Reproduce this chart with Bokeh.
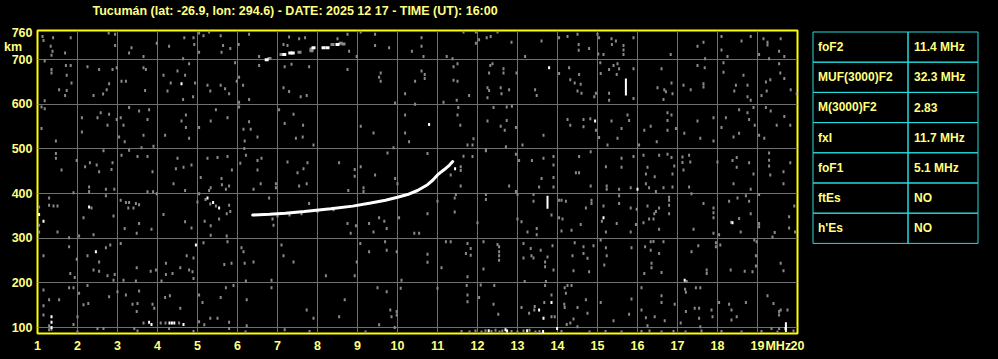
from bokeh.plotting import figure
from bokeh.models import Range1d, FixedTicker, LinearAxis
from bokeh.layouts import row
from bokeh.embed import file_html
from bokeh.resources import INLINE
from bokeh.core.properties import value

# ---------------- data ----------------
title_text = "Tucumán (lat: -26.9, lon: 294.6) - DATE: 2025 12 17 - TIME (UT): 16:00"
title_pos = 7.44          # frequency under the middle of the heading
freq_ticks = list(range(1, 21))
freq_unit_pos = 19.52
freq_unit = "MHz"
height_ticks = [100, 200, 300, 400, 500, 600, 700, 760]
height_unit_pos = 729
height_unit = "km\u00a0\u00a0\u00a0"
grid_heights = [100, 200, 300, 400, 500, 600, 700]

param_names = ["foF2", "MUF(3000)F2", "M(3000)F2", "fxI", "foF1", "ftEs", "h'Es"]
param_values = ["11.4 MHz", "32.3 MHz", "2.83", "11.7 MHz", "5.1 MHz", "NO", "NO"]

# F-layer echo trace (MHz, km)
trace_f = [6.38, 6.8, 7.2, 7.67, 8.33, 8.88, 9.33, 9.7, 10.0, 10.25, 10.5, 10.75, 10.88, 11.0, 11.17, 11.3, 11.38]
trace_h = [352, 354, 356, 360, 366, 372, 379, 385, 392, 398, 407, 420, 430, 442, 454, 464, 472]

# second-hop echo fragments
hop2_white_f = [6.73, 7.17, 7.32, 7.38, 7.9, 8.15, 8.25, 8.5]
hop2_white_h = [700, 712, 715, 715, 727, 727, 727, 734]
hop2_gray_f = [6.8, 7.1, 7.55, 7.85, 7.85, 8.375, 8.58, 8.65]
hop2_gray_h = [703, 712, 717, 720, 724, 734, 737, 735]

# isolated strong echoes (white)
white_f = [4.6, 13.79, 10.79, 14.94, 15.15, 18.375, 17.18, 1.04, 1.15, 2.29, 2.46, 4.96, 3.79, 3.85,
           4.3, 4.36, 4.42, 4.65, 1.35, 1.35, 1.35, 13.54, 13.65, 13.85, 16.0, 5.25, 5.39, 5.54, 11.44,
           12.28, 12.74, 13.24, 13.64, 13.99, 19.7, 12.7]
white_h = [646, 682, 555, 563, 346, 335, 206, 353, 338, 370, 270, 285, 112, 107,
           110, 110, 110, 107, 124, 112, 100, 139, 121, 156, 410, 390, 380, 368, 456,
           93, 92, 93, 91, 98, 98, 95]

# vertical echo streaks (MHz, km low, km high)
streak_f = [13.75, 15.71, 19.71]
streak_lo = [366, 620, 90]
streak_hi = [395, 658, 112]

# background interference dots (MHz, km)
noise_pts = [
    (1.125,752),(1.15,743),(1.39,749),(1.83,749),(1.33,730),(1.375,719),(1.35,710),(1.69,715),(2.78,760),(2.94,757),
    (2.94,732),(3.29,715),(3.35,727),(3.65,707),(3.98,737),(4.29,730),(4.67,749),(4.9,749),(4.92,734),(4.64,702),
    (5.04,760),(5.15,754),(5.29,762),(5.58,754),(5.64,732),(5.6,717),(5.82,725),(5.04,717),(6.03,734),(6.29,757),
    (6.54,707),(7.15,734),(7.25,732),(7.29,751),(7.54,747),(7.69,749),(8.5,747),(8.75,757),(8.79,719),(8.98,707),
    (9.08,762),(9.44,757),(9.44,732),(9.79,727),(10.36,719),
    (1.18,697),(1.71,687),(1.83,687),(1.35,678),(1.35,670),(1.73,665),(1.85,648),(1.54,633),(1.73,631),(1.69,620),
    (1.18,608),(2.25,684),(2.54,678),(2.875,678),(2.98,682),(2.79,646),(2.73,633),(2.64,623),(2.4,620),(3.1,652),
    (3.21,652),(3.65,682),(3.71,678),(3.69,631),(4.15,665),(4.33,648),(4.5,675),(4.69,665),(4.25,630),(4.94,648),
    (4.79,691),(4.64,611),(4.89,617),(5.25,643),(5.32,630),(5.58,643),(5.69,635),(5.79,624),(5.94,693),(6.04,661),
    (5.98,652),(6.14,643),(6.29,611),(6.04,605),(6.54,687),(7.18,684),(7.35,690),(7.79,684),(7.15,637),(7.29,629),
    (7.58,617),(7.73,620),(8.75,678),(9.58,670),(9.54,661),(9.58,652),(10.19,624),(10.44,652),(9.94,603),
    (1.1,594),(1.18,590),(1.1,546),(2.11,570),(2.11,538),(2.58,581),(2.79,578),(2.5,570),(2.75,553),(2.98,566),
    (3.08,570),(3.15,553),(3.04,527),(3.18,516),(3.29,593),(3.54,585),(3.79,588),(3.75,566),(3.65,531),(4.19,531),
    (4.6,563),(4.71,576),(4.71,548),(4.79,524),(5.04,548),(5.33,563),(5.46,588),(5.75,570),(6.04,594),(6.15,544),
    (6.29,561),(6.33,544),(6.5,527),(6.18,518),(7.04,588),(7.4,578),(7.18,557),(7.46,524),(7.63,527),(7.64,553),
    (7.9,509),(9.08,551),(9.4,536),(10.19,576),(10.19,536),(10.29,516),(10.44,600),
    (1.46,518),(1.46,490),(1.46,479),(1.6,453),(1.98,474),(2.19,460),(2.31,469),(2.48,464),(2.54,449),(2.65,496),
    (2.875,469),(2.85,454),(3.1,486),(3.29,497),(3.5,483),(3.75,483),(3.875,449),(3.6,503),(3.9,506),(4.5,479),
    (4.46,456),(4.65,459),(4.85,464),(5.08,436),(5.25,479),(5.5,481),(5.75,483),(5.6,434),(5.86,453),(6.07,468),
    (6.17,501),(6.21,486),(6.5,474),(6.6,479),(6.5,453),(7.25,471),(7.5,447),(7.65,456),(7.75,469),(8.54,469),
    (8.93,454),(8.93,439),(9.08,460),(9.44,442),(9.75,491),(9.9,503),(9.94,434),
    (10.6,749),(10.6,730),(10.65,707),(11.23,707),(11.375,702),(11.65,762),(11.96,762),(11.96,737),(12.04,745),(12.23,749),
    (12.33,752),(12.5,762),(12.85,739),(13.19,707),(13.6,742),(14.04,749),(14.25,752),(14.5,757),(14.53,734),(14.53,721),
    (14.79,725),(15.0,757),(15.04,749),(15.02,713),(15.15,712),(15.35,747),(15.36,734),(15.46,742),(15.65,732),(15.65,722),
    (15.65,712),(15.9,749),(16.83,712),(17.5,730),(17.65,739),(17.69,702),(18.1,752),(18.1,722),(18.25,707),(18.6,742),
    (18.83,752),(19.15,747),(19.25,739),(19.25,733),(19.04,712),(19.58,747),(19.54,719),(19.67,707),(19.29,702),
    (10.6,675),(10.68,667),(10.68,658),(11.4,684),(11.5,691),(11.4,654),(11.5,652),(12.32,687),(12.375,691),(12.29,670),
    (12.65,680),(12.65,670),(12.975,670),(12.25,637),(12.29,631),(12.58,637),(12.6,624),(12.79,633),(12.25,615),(11.79,620),
    (11.48,609),(11.15,605),(13.44,633),(13.48,620),(14.04,669),(14.29,682),(14.54,667),(14.32,655),(14.43,648),(14.58,645),
    (14.5,630),(14.6,625),(14.96,625),(14.92,617),(15.07,693),(15.08,669),(15.29,678),(15.4,687),(15.5,691),(15.48,667),
    (15.54,680),(15.29,625),(15.29,609),(15.9,680),(15.9,613),(16.6,680),(16.5,637),(16.67,633),(16.71,628),(16.85,648),
    (16.875,624),(16.65,611),(17.15,643),(17.33,633),(17.5,687),(17.68,682),(17.65,646),(17.65,639),(18.15,693),(18.15,672),
    (18.46,643),(18.42,630),(18.65,665),(18.75,643),(18.75,617),(18.83,609),(19.21,650),(19.23,630),(19.1,620),(19.32,655),
    (19.54,691),(19.57,670),(19.67,658),(19.83,633),(19.98,624),
    (11.52,593),(11.5,576),(11.57,553),(12.4,593),(12.25,563),(12.73,594),(12.73,564),(12.68,542),(12.58,551),(12.96,548),
    (12.86,596),(13.65,531),(13.125,509),(12.71,505),(11.9,523),(11.875,509),(11.75,509),(12.21,497),(14.25,566),(14.32,553),
    (14.65,566),(14.82,568),(14.65,550),(14.96,542),(15.04,526),(15.25,509),(15.35,563),(15.6,546),(15.75,576),(15.79,564),
    (15.5,524),(16.04,509),(16.17,542),(16.33,551),(16.48,516),(16.75,581),(16.75,564),(16.75,542),(16.85,576),(16.96,546),
    (17.17,535),(17.5,563),(17.57,524),(17.9,570),(17.9,518),(18.1,548),(18.21,570),(18.4,527),(18.54,535),(18.54,588),
    (18.75,581),(18.79,566),(18.9,593),(18.93,553),(19.04,531),(19.17,524),(19.21,593),(19.33,585),(19.48,553),(19.67,573),
    (19.82,553),
    (10.75,490),(11.875,483),(11.65,484),(11.58,460),(11.58,452),(11.33,442),(12.21,496),(12.96,488),(13.04,474),(13.36,474),
    (13.65,479),(13.9,483),(13.9,464),(13.9,436),(13.6,434),(14.46,447),(14.54,447),(14.54,483),(14.83,494),(15.21,460),
    (15.6,479),(15.6,459),(15.9,483),(16.15,486),(16.25,459),(16.21,444),(16.43,438),(16.54,486),(16.75,488),(16.85,481),
    (17.125,482),(17.125,470),(17.29,486),(17.32,471),(17.15,453),(16.92,462),(16.875,444),(18.0,471),(18.375,474),(18.48,481),
    (18.48,459),(18.79,469),(19.29,491),(19.29,475),(19.29,462),(19.32,442),(19.65,449),(19.82,469),(18.9,444),
    (1.9,402),(2.29,415),(2.29,405),(2.71,410),(2.71,395),(2.92,410),(3.75,404),(3.89,404),(3.98,400),(4.4,422),
    (4.69,407),(5.29,407),(5.33,413),(5.61,420),(5.79,417),(5.71,410),(6.4,410),(6.58,422),(6.96,422),(6.96,413),
    (7.54,417),(7.73,422),(8.77,407),(9.15,413),(9.15,405),(10.0,422),(5.2,387),(5.32,377),(5.46,372),
    (1.04,370),(1.04,329),(1.04,314),(1.29,390),(1.29,374),(1.4,372),(1.5,372),(1.5,314),(1.79,301),(2.04,305),
    (2.15,346),(2.35,368),(2.4,308),(2.9,350),(3.08,385),(3.21,380),(3.29,380),(3.46,378),(3.54,375),(3.27,368),
    (3.4,368),(3.18,322),(3.54,333),(3.48,311),(3.85,320),(4.15,353),(4.69,337),(4.85,323),(5.33,328),(5.18,338),
    (5.33,307),(5.54,343),(5.73,355),(5.79,374),(5.73,305),(5.82,360),(5.0,381),(5.04,400),(6.875,343),(6.9,329),
    (6.79,390),(7.79,378),(8.75,333),(8.83,311),(8.96,328),(9.29,333),(9.54,346),(9.67,338),(9.73,322),(10.04,346),
    (9.4,314),(10.42,311),(7.0,350),(7.3,352),(7.6,355),(8.0,360),(8.4,364),
    (1.15,261),(1.79,281),(1.82,221),(1.93,212),(1.98,253),(2.25,261),(2.54,247),(2.4,229),(2.54,226),(2.71,279),
    (2.82,285),(2.75,216),(2.93,219),(2.9,206),(3.08,288),(3.15,206),(3.48,234),(3.46,204),(3.83,226),(3.96,229),
    (4.1,204),(4.21,244),(4.21,219),(4.375,221),(4.57,234),(4.79,229),(4.875,225),(4.9,210),(4.73,261),(4.9,256),
    (5.15,290),(5.67,241),(5.75,292),(5.85,244),(6.1,279),(6.15,270),(6.18,244),(6.4,247),(6.21,204),(6.85,206),
    (7.15,261),(7.4,247),(7.1,285),(8.21,216),(8.93,216),(8.98,247),(9.07,288),(9.29,270),(9.73,273),(9.69,292),
    (9.98,270),(10.1,206),
    (1.15,184),(1.15,149),(1.29,162),(1.54,162),(1.15,128),(1.29,95),(1.79,189),(1.9,189),(2.0,124),(1.9,107),
    (2.04,177),(2.15,151),(2.25,194),(2.27,154),(2.5,98),(2.65,98),(2.79,169),(3.0,180),(3.21,173),(3.375,152),
    (3.5,154),(3.54,182),(3.48,136),(3.42,98),(3.65,110),(3.875,152),(3.92,143),(4.08,110),(4.19,167),(4.31,171),
    (4.54,110),(4.2,110),(4.29,98),(4.57,143),(5.04,173),(5.04,113),(5.125,156),(5.17,106),(5.32,121),(5.5,121),
    (5.58,167),(5.71,189),(5.79,112),(5.79,98),(5.9,194),(6.23,162),(6.23,104),(6.85,189),(7.18,95),(7.73,139),
    (7.9,121),(8.54,124),(8.68,162),(9.5,189),(9.73,180),(9.82,139),(9.85,124),(9.98,136),(9.98,128),(10.08,188),
    (9.54,106),(9.93,100),(1.35,96),(1.29,104),
    (11.58,417),(12.79,417),(12.96,405),(13.54,415),(13.9,415),(14.83,417),(15.23,417),(15.23,410),(15.54,410),(15.83,413),
    (16.21,422),(16.29,413),(16.46,405),(16.65,413),(16.875,415),(17.29,415),(18.4,422),(18.83,410),(19.65,422),
    (11.46,398),(11.43,390),(11.43,359),(11.0,383),(10.75,355),(10.54,311),(12.0,335),(12.21,398),(12.21,387),(13.0,398),
    (13.0,343),(13.4,398),(13.4,383),(13.1,337),(13.25,314),(13.48,322),(13.48,308),(13.85,352),(14.04,385),(14.1,385),
    (14.21,383),(14.04,346),(14.125,343),(14.1,316),(14.35,318),(14.58,331),(14.71,368),(14.85,385),(14.85,378),(15.15,372),
    (15.21,314),(15.11,338),(15.48,333),(15.54,378),(15.54,395),(15.83,368),(15.83,314),(15.98,365),(15.96,331),(16.15,335),
    (16.25,372),(16.29,343),(16.42,355),(16.46,360),(16.4,343),(16.54,368),(16.54,320),(16.79,392),(16.79,374),(16.79,355),
    (16.79,385),(17.35,400),(17.4,320),(17.65,378),(17.9,368),(17.9,357),(17.9,346),(17.9,311),(18.04,308),(18.34,336),
    (18.29,383),(18.5,390),(18.71,395),(18.79,383),(18.83,355),(18.54,344),(18.58,314),(19.04,398),(19.04,333),(19.04,326),
    (19.43,313),(19.375,303),(19.79,348),(19.79,323),(19.92,372),(19.94,314),
    (10.75,264),(10.75,246),(11.1,234),(11.21,292),(11.33,292),(11.75,288),(11.83,277),(11.83,262),(11.71,266),(11.75,214),
    (12.15,231),(12.15,292),(12.5,286),(12.54,281),(12.54,270),(12.54,261),(12.54,251),(13.15,288),(13.15,256),(13.33,277),
    (13.35,261),(13.4,256),(13.58,273),(13.69,247),(13.69,236),(13.875,283),(13.9,229),(13.75,258),(14.375,261),(14.4,227),
    (14.43,290),(14.65,281),(14.65,266),(14.75,255),(14.79,225),(14.9,283),(15.08,296),(15.21,279),(15.23,261),(15.17,240),
    (15.85,279),(16.19,281),(16.17,221),(16.33,292),(16.33,273),(16.35,244),(16.35,234),(16.4,293),(16.54,266),(16.65,292),
    (16.6,223),(17.35,270),(17.52,283),(17.73,229),(17.73,221),(17.96,281),(18.07,285),(18.33,229),(18.68,226),(18.875,225),
    (18.92,296),(18.98,292),(18.96,261),(18.96,238),(19.58,244),(17.23,203),(17.96,290),(19.65,227),
    (11.0,188),(11.73,194),(11.75,173),(11.75,158),(12.04,167),(12.08,195),(12.42,194),(12.4,152),(12.52,130),(13.1,145),
    (13.18,203),(13.29,132),(13.42,139),(13.43,147),(13.67,156),(13.69,194),(13.85,173),(13.85,124),(13.93,124),(13.71,203),
    (14.18,189),(14.21,177),(14.25,194),(14.35,194),(14.17,152),(14.18,145),(14.5,145),(14.4,119),(14.5,102),(14.23,107),
    (14.32,110),(14.71,162),(14.75,132),(15.08,156),(15.4,115),(15.79,130),(15.85,164),(16.1,189),(16.1,139),(16.21,122),
    (16.25,104),(16.43,124),(16.6,171),(16.6,156),(16.68,115),(16.93,152),(17.08,110),(17.19,186),(17.21,179),(17.21,136),
    (17.46,189),(17.43,143),(17.54,143),(17.57,189),(17.54,121),(17.57,102),(17.85,139),(17.875,124),(18.04,156),(18.29,152),
    (18.35,139),(18.35,117),(18.48,124),(18.71,156),(19.25,171),(19.4,154),(19.54,136),(19.54,128),(19.58,139),(19.75,139),
    (19.35,98),(19.54,98),
    (11.6,91),(11.8,90),(11.95,92),(12.1,90),(12.2,93),(12.35,91),(12.45,94),(12.55,90),(12.62,92),(12.85,91),
    (13.0,90),(13.15,92),(13.3,94),(13.45,90),(13.55,91),(14.1,91),(14.8,90),(15.2,91),(15.6,90),(16.1,91),
    (16.3,92),(16.6,90),(16.9,91),(17.2,90),(17.6,92),(18.1,91),(18.6,90),(19.1,91),(19.5,90),(19.9,92),
    (2.0,90),(3.5,92),(4.9,91),(6.2,90),(7.8,91),(9.2,90),
]
noise_f = [pt[0] for pt in noise_pts]
noise_h = [pt[1] for pt in noise_pts]

# ---------------- style ----------------
BG = "#000000"
YEL_LINE = "#FFFF00"
YEL_TXT = "#FFFF80"
GRID = "#707070"
NOISE = "#8a8a8a"
CYAN = "#22DDDD"
FONT = "Liberation Sans"
MAIN_W = 810

p = figure(width=MAIN_W, height=359,
           x_range=Range1d(1, 20), y_range=Range1d(86.6, 765.5),
           output_backend="svg", toolbar_location=None,
           min_border_left=37, min_border_right=MAIN_W - 797, min_border_top=29, min_border_bottom=26,
           background_fill_color=BG, border_fill_color=BG,
           outline_line_color=YEL_LINE, outline_line_width=2)
p.title.visible = False

bottom_axis = p.below[0]
left_axis = p.left[0]

# heading carried by an axis along the top edge
top_axis = LinearAxis(ticker=FixedTicker(ticks=[title_pos]),
                      major_label_overrides={title_pos: title_text})
p.add_layout(top_axis, "above")

bottom_axis.ticker = FixedTicker(ticks=freq_ticks + [freq_unit_pos])
bottom_axis.major_label_overrides = {freq_unit_pos: freq_unit}
left_axis.ticker = FixedTicker(ticks=height_ticks + [height_unit_pos])
left_axis.major_label_overrides = {height_unit_pos: height_unit}
p.xgrid.ticker = FixedTicker(ticks=freq_ticks)
p.ygrid.ticker = FixedTicker(ticks=grid_heights)
p.grid.grid_line_color = GRID
p.grid.grid_line_width = 1

for ax in (bottom_axis, left_axis, top_axis):
    ax.axis_line_color = None
    ax.major_tick_line_color = None
    ax.minor_tick_line_color = None
    ax.major_tick_out = 0
    ax.major_tick_in = 0
    ax.major_label_text_color = YEL_TXT
    ax.major_label_text_font = FONT
    ax.major_label_text_font_style = "bold"
    ax.major_label_text_font_size = "12.5px"
bottom_axis.major_label_standoff = 5
left_axis.major_label_standoff = 5
top_axis.major_label_standoff = 13

# noise dots
p.rect(x=noise_f, y=noise_h, width=2, height=3, width_units="screen", height_units="screen",
       fill_color=NOISE, line_color=None)

# echo trace
p.line(x=trace_f, y=trace_h, line_color="#FFFFFF", line_width=3, line_cap="round")

# second hop
p.rect(x=hop2_gray_f, y=hop2_gray_h, width=4, height=3, width_units="screen", height_units="screen",
       fill_color=NOISE, line_color=None)
p.rect(x=hop2_white_f, y=hop2_white_h, width=4, height=3, width_units="screen", height_units="screen",
       fill_color="#FFFFFF", line_color=None)

# strong points
p.rect(x=white_f, y=white_h, width=2, height=3, width_units="screen", height_units="screen",
       fill_color="#FFFFFF", line_color=None)
p.segment(x0=streak_f, y0=streak_lo, x1=streak_f, y1=streak_hi, line_color="#FFFFFF", line_width=2)

# ---------------- parameter table ----------------
# its frame is aligned with the ionogram frame (page rows 29..333), so y is given in page pixels
TAB_W = 998 - MAIN_W
t = figure(width=TAB_W, height=359, x_range=Range1d(MAIN_W, 998), y_range=Range1d(333, 29),
           output_backend="svg", toolbar_location=None, x_axis_type=None, y_axis_type=None,
           min_border=0, min_border_left=0, min_border_right=0, min_border_top=29, min_border_bottom=26,
           background_fill_color=BG, border_fill_color=BG, outline_line_color=None)
t.grid.visible = False

tab_left, tab_mid, tab_right = 812.5, 907.5, 977.5
tab_top, row_h = 30.5, 30.3
n = len(param_names)
tops = [tab_top + i * row_h for i in range(n)]
bots = [tab_top + (i + 1) * row_h for i in range(n)]
mids = [(a + b) / 2 for a, b in zip(tops, bots)]

t.quad(left=[tab_left] * n, right=[tab_mid] * n, top=tops, bottom=bots,
       fill_color=None, line_color=CYAN, line_width=1)
t.quad(left=[tab_mid] * n, right=[tab_right] * n, top=tops, bottom=bots,
       fill_color=None, line_color=CYAN, line_width=1)
t.text(x=[tab_left + 5] * n, y=mids, text=param_names, text_color=YEL_TXT,
       text_font=value(FONT), text_font_style="bold", text_font_size="12px",
       text_baseline="middle", text_align="left")
t.text(x=[tab_mid + 6] * n, y=mids, text=param_values, text_color=YEL_TXT,
       text_font=value(FONT), text_font_style="bold", text_font_size="12px",
       text_baseline="middle", text_align="left")

layout = row(p, t, spacing=0)
html = file_html(layout, INLINE)
html = html.replace("</head>", "<style>html,body{margin:0;padding:0;background:#000000;}</style></head>", 1)
open("out.html", "w").write(html)
